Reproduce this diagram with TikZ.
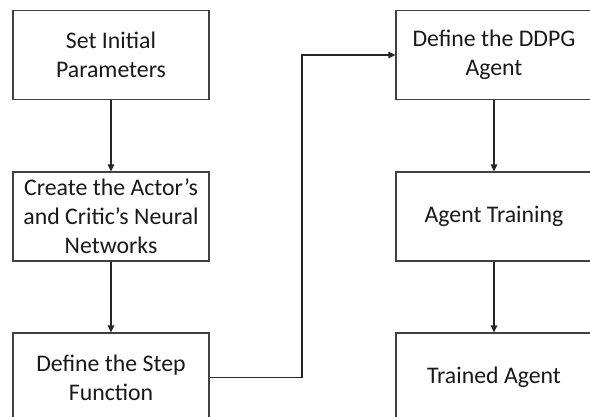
\documentclass[tikz,border=0pt]{standalone}
\usepackage{fontspec}
\setmainfont{Carlito}
\usetikzlibrary{arrows.meta}
\tikzset{
  stepbox/.style={draw=black!75, line width=1.2pt, fill=white, minimum width=196pt, minimum height=89pt, inner sep=0pt, align=center, font=\fontsize{23.8}{29}\selectfont, text=black!90},
  conn/.style={draw=black!85, line width=1.2pt, -{Triangle[length=7pt,width=6.5pt]}}
}
\begin{document}
\begin{tikzpicture}[x=1pt,y=-1pt]
\useasboundingbox (0,0) rectangle (590,416);
\clip (0,0) rectangle (590,416);
\node[stepbox] (a) at (111,55) {Set Initial\\Parameters};
\node[stepbox] (b) at (111,216.5) {Create the Actor’s\\and Critic’s Neural\\Networks};
\node[stepbox] (c) at (111,377.5) {Define the Step\\Function};
\node[stepbox] (d) at (494,55) {Define the DDPG\\Agent};
\node[stepbox] (e) at (494,216.5) {Agent Training};
\node[stepbox] (f) at (494,377.5) {Trained Agent};
\coordinate (m) at (302,0);
\draw[conn] (a) -- (b);
\draw[conn] (b) -- (c);
\draw[conn] (c.east) -| (m |- d.west) -- (d.west);
\draw[conn] (d) -- (e);
\draw[conn] (e) -- (f);
\end{tikzpicture}
\end{document}
